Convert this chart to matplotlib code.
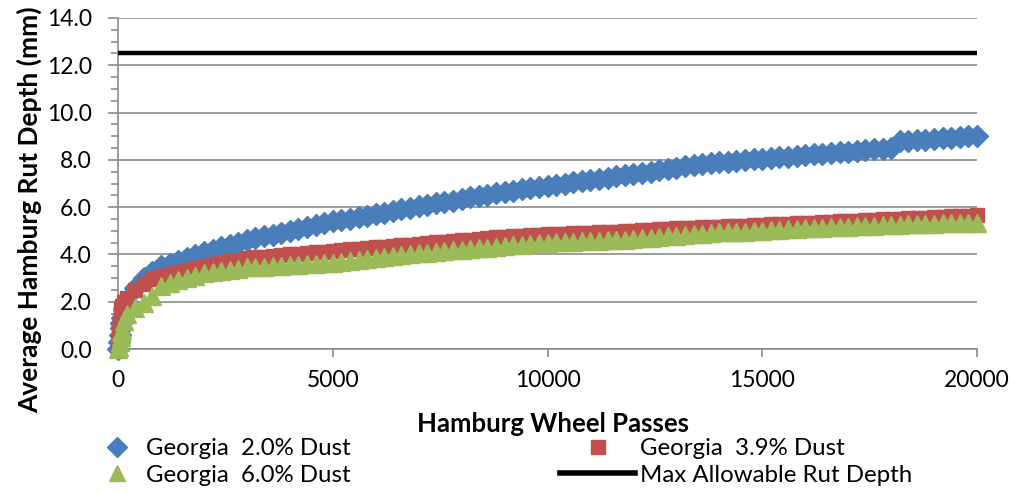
import numpy as np
import matplotlib.pyplot as plt
from matplotlib.lines import Line2D
from matplotlib.ticker import MultipleLocator, FormatStrFormatter

plt.rcParams['font.family'] = ['Lato', 'DejaVu Sans']

# wheel passes: dense readings at the start, then every 200 passes
passes = [0, 20, 40, 60, 80, 100, 150] + list(range(200, 20001, 200))

rut_20 = [0.00, 0.30, 0.60, 0.90, 1.10, 1.30, 1.70,
          2.00, 2.60, 3.00, 3.25, 3.50, 3.60, 3.72, 3.85, 3.97, 4.10,
          4.20, 4.30, 4.40, 4.50, 4.60, 4.68, 4.76, 4.84, 4.92, 5.00,
          5.08, 5.16, 5.24, 5.32, 5.40, 5.46, 5.52, 5.58, 5.64, 5.70,
          5.77, 5.84, 5.91, 5.98, 6.05, 6.11, 6.17, 6.23, 6.28, 6.35,
          6.41, 6.47, 6.53, 6.59, 6.65, 6.70, 6.75, 6.80, 6.85, 6.90,
          6.95, 7.00, 7.05, 7.10, 7.15, 7.20, 7.25, 7.30, 7.35, 7.40,
          7.45, 7.50, 7.56, 7.62, 7.67, 7.72, 7.77, 7.81, 7.86, 7.90,
          7.93, 7.96, 7.99, 8.02, 8.05, 8.08, 8.11, 8.14, 8.17, 8.20,
          8.23, 8.26, 8.29, 8.32, 8.35, 8.38, 8.41, 8.44, 8.47, 8.50,
          8.78, 8.80, 8.83, 8.86, 8.89, 8.91, 8.94, 8.97, 9.00, 9.03]

rut_39 = [0.00, 0.70, 1.20, 1.50, 1.70, 1.80, 2.00,
          2.15, 2.50, 2.75, 2.95, 3.10, 3.18, 3.26, 3.34, 3.42, 3.50,
          3.57, 3.64, 3.71, 3.78, 3.85, 3.88, 3.91, 3.94, 3.97, 4.00,
          4.03, 4.06, 4.09, 4.12, 4.15, 4.18, 4.21, 4.24, 4.27, 4.30,
          4.33, 4.36, 4.39, 4.42, 4.45, 4.48, 4.51, 4.54, 4.57, 4.60,
          4.63, 4.66, 4.69, 4.72, 4.75, 4.77, 4.79, 4.81, 4.83, 4.85,
          4.86, 4.88, 4.89, 4.91, 4.92, 4.94, 4.95, 4.97, 4.98, 5.00,
          5.02, 5.04, 5.06, 5.08, 5.10, 5.12, 5.13, 5.15, 5.16, 5.18,
          5.19, 5.21, 5.22, 5.24, 5.25, 5.27, 5.28, 5.30, 5.31, 5.33,
          5.35, 5.37, 5.38, 5.40, 5.42, 5.43, 5.45, 5.47, 5.48, 5.50,
          5.52, 5.53, 5.55, 5.56, 5.58, 5.59, 5.61, 5.62, 5.64, 5.65]

rut_60 = [0.00, 0.10, 0.30, 0.50, 0.70, 0.80, 1.20,
          1.50, 1.75, 1.95, 2.25, 2.65, 2.80, 2.90, 3.00, 3.10, 3.20,
          3.25, 3.30, 3.35, 3.40, 3.45, 3.47, 3.49, 3.51, 3.53, 3.55,
          3.57, 3.59, 3.61, 3.63, 3.65, 3.69, 3.73, 3.77, 3.81, 3.85,
          3.89, 3.93, 3.97, 4.01, 4.05, 4.08, 4.11, 4.14, 4.17, 4.20,
          4.23, 4.26, 4.29, 4.32, 4.35, 4.38, 4.41, 4.44, 4.47, 4.50,
          4.51, 4.53, 4.54, 4.56, 4.57, 4.59, 4.60, 4.62, 4.63, 4.65,
          4.68, 4.71, 4.74, 4.77, 4.80, 4.83, 4.85, 4.88, 4.90, 4.93,
          4.94, 4.96, 4.97, 4.99, 5.00, 5.02, 5.04, 5.06, 5.08, 5.10,
          5.12, 5.13, 5.15, 5.16, 5.18, 5.19, 5.21, 5.22, 5.24, 5.25,
          5.26, 5.27, 5.28, 5.29, 5.30, 5.31, 5.32, 5.33, 5.34, 5.35]

# specification limit
limit_passes = [0, 20000]
limit_depth = [12.5, 12.5]

labels = ["Georgia  2.0% Dust", "Georgia  3.9% Dust",
          "Georgia  6.0% Dust", "Max Allowable Rut Depth"]

c_blue = "#4a7ebb"
c_red = "#c0504d"
c_green = "#9bbb59"
c_grid = "#8c8c8c"

fig = plt.figure(figsize=(10.14, 4.93), dpi=100)
ax = fig.add_axes([0.1164, 0.292, 0.8471, 0.6715])

ax.plot(passes, rut_20, ls='none', marker='D', ms=11, color=c_blue, mec=c_blue, clip_on=False, zorder=3)
ax.plot(passes, rut_39, ls='none', marker='s', ms=10.5, color=c_red, mec=c_red, clip_on=False, zorder=4)
ax.plot(passes, rut_60, ls='none', marker='^', ms=12.5, color=c_green, mec=c_green, clip_on=False, zorder=5)
ax.plot(limit_passes, limit_depth, color='black', lw=3.2, solid_capstyle='butt', zorder=6)

ax.set_xlim(0, 20000)
ax.set_ylim(0, 14)
ax.xaxis.set_major_locator(MultipleLocator(5000))
ax.yaxis.set_major_locator(MultipleLocator(2))
ax.yaxis.set_minor_locator(MultipleLocator(0.5))
ax.yaxis.set_major_formatter(FormatStrFormatter('%.1f'))

ax.grid(axis='y', which='major', color=c_grid, lw=1.2)
ax.set_axisbelow(True)
for s in ['top', 'right']:
    ax.spines[s].set_visible(False)
for s in ['left', 'bottom']:
    ax.spines[s].set_color(c_grid)
    ax.spines[s].set_linewidth(1.2)

ax.tick_params(axis='both', which='major', direction='out', color=c_grid, width=1.2, labelsize=16.5)
ax.tick_params(axis='y', which='major', length=7, pad=12)
ax.tick_params(axis='x', which='major', length=6, pad=9)
ax.tick_params(axis='y', which='minor', direction='out', length=5, width=1.2, color=c_grid)

ax.set_xlabel("Hamburg Wheel Passes", fontsize=18.5, fontweight='bold', va='top')
ax.set_ylabel("Average Hamburg Rut Depth (mm)", fontsize=19, fontweight='bold')
ax.xaxis.set_label_coords(0.506, -0.19)
ax.yaxis.set_label_coords(-0.088, 0.42)

# legend in two columns, markers on the left, line entry on the right
h_blue = Line2D([], [], ls='none', marker='D', ms=10, color=c_blue)
h_green = Line2D([], [], ls='none', marker='^', ms=12, color=c_green)
h_red = Line2D([], [], ls='none', marker='s', ms=10, color=c_red)
h_line = Line2D([], [], color='black', lw=4)

leg1 = fig.legend([h_blue, h_green], [labels[0], labels[2]], loc='upper left',
                  bbox_to_anchor=(0.1012, 0.1116), frameon=False, fontsize=17.3,
                  handlelength=1.2, handletextpad=0.6, labelspacing=0.24,
                  borderaxespad=0, borderpad=0)
leg2 = fig.legend([h_red, h_line], [labels[1], labels[3]], loc='upper left',
                  bbox_to_anchor=(0.5523, 0.1116), frameon=False, fontsize=17.3,
                  handlelength=3.12, handletextpad=0.21, labelspacing=0.24,
                  borderaxespad=0, borderpad=0)

fig.savefig("out.png", dpi=100)
